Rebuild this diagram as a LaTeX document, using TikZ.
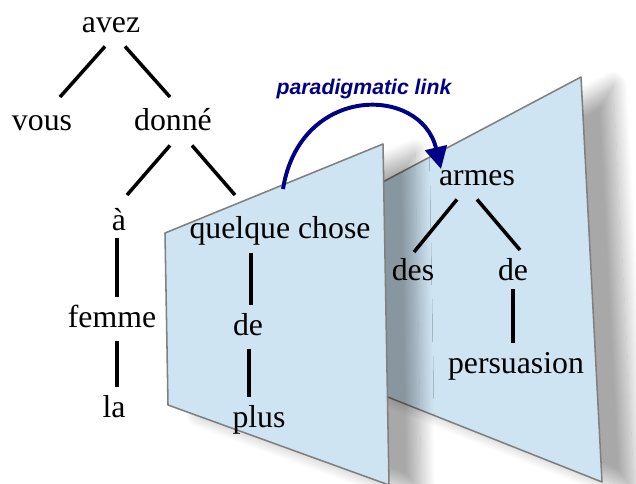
\documentclass[tikz,border=0pt]{standalone}
\usepackage{fontspec}
\setmainfont{Liberation Serif}
\setsansfont{Liberation Sans}
\usetikzlibrary{arrows.meta,shadows.blur}

\definecolor{planeBg}{RGB}{207,228,242}
\definecolor{planeLine}{RGB}{128,128,128}
\definecolor{linkBlue}{RGB}{0,0,135}

\begin{document}
\begin{tikzpicture}[x=0.025cm, y=-0.025cm,
    word/.style={anchor=base, inner sep=0pt, outer sep=0pt,
        text height=0.75cm, text depth=0.36cm,
        font=\fontsize{22.6}{26}\selectfont},
    dep/.style={line width=2.5pt, line cap=butt},
    plane/.style={fill=planeBg, draw=planeLine, line width=1.1pt, line join=round,
        blur shadow={shadow xshift=0.8cm, shadow yshift=-0.22cm,
            shadow blur radius=0.36cm, shadow blur steps=18, shadow opacity=34}},
    paralink/.style={draw=linkBlue, line width=2.8pt,
        -{Triangle[length=0.55cm, width=0.55cm]}}]
\useasboundingbox (0,0) rectangle (636,483);
\clip (0,0) rectangle (636,483);
%% ── Back plane ───────────────────────────────────────────────────────────
\path[plane] (360,194) -- (581,77) -- (602,482) -- (365,388) -- cycle;
%% ── Front plane ──────────────────────────────────────────────────────────
\path[plane] (165,233) -- (383,144) -- (389,485) -- (168,405) -- cycle;
%% ── Main tree ────────────────────────────────────────────────────────────
\node[word] (avez)    at (111,32)  {avez};
\node[word] (vous)    at (42,130)  {vous};
\node[word] (donne)   at (173,130) {donné};
\node[word] (a)       at (119,230) {à};
\node[word] (femme)   at (112,327) {femme};
\node[word] (la)      at (114,417) {la};
\node[word] (quelque) at (280,238) {quelque chose};
\node[word] (deA)     at (248,335) {de};
\node[word] (plus)    at (259,427) {plus};
\draw[dep] ([shift={(-6,0)}]avez.south) -- ([shift={(18,-3)}]vous.north);
\draw[dep] ([shift={(14,0)}]avez.south) -- ([shift={(-3,-3)}]donne.north);
\draw[dep] ([shift={(-3,1)}]donne.south) -- ([shift={(8,-5)}]a.north);
\draw[dep] ([shift={(19,1)}]donne.south) -- ([shift={(-45,-13)}]quelque.north);
\draw[dep] ([shift={(-2,-6)}]a.south) -- ([shift={(-2,0)}]a.south |- femme.north);
\draw[dep] ([shift={(-2,0)}]a.south |- femme.south) -- ([shift={(-2,0)}]a.south |- la.north);
\draw[dep] ([shift={(3,1)}]deA.north |- quelque.south) -- ([shift={(3,0)}]deA.north);
\draw[dep] ([shift={(1,0)}]deA.south) -- ([shift={(1,0)}]deA.south |- plus.north);
%% ── Second tree ──────────────────────────────────────────────────────────
\node[word] (armes)      at (477,185) {armes};
\node[word] (des)        at (413,280) {des};
\node[word] (deB)        at (513,280) {de};
\node[word] (persuasion) at (516,373) {persuasion};
\draw[dep] ([shift={(-20,0)}]armes.south) -- ([shift={(1,2)}]des.north);
\draw[dep] ([shift={(0,0)}]armes.south) -- ([shift={(7,0)}]deB.north);
\draw[dep] ([shift={(0,-5)}]deB.south) -- ([shift={(-3,0)}]persuasion.north);
%% ── Link between the planes ──────────────────────────────────────────────
\draw[paralink] ([shift={(3,-19)}]quelque.north)
    .. controls +(17,-105) and +(-20,-84) .. ([shift={(-36,14)}]armes.north);
\node[font=\sffamily\bfseries\itshape\fontsize{15.1}{18}\selectfont, text=linkBlue]
    (linklabel) at (364,89) {paradigmatic link};
\end{tikzpicture}
\end{document}
